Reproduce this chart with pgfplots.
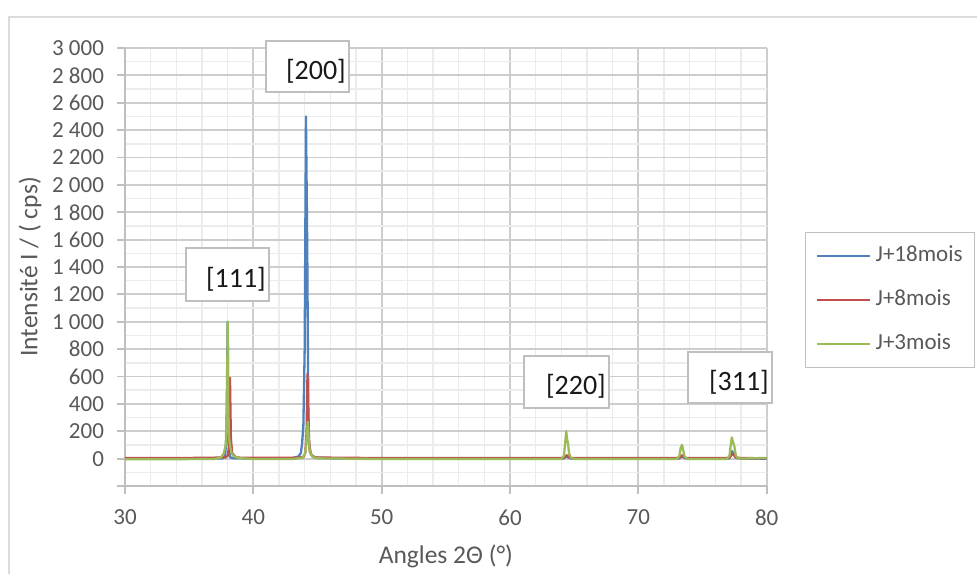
\documentclass[border=0pt]{standalone}
\usepackage{fontspec}
\setmainfont{Carlito}
\usepackage{pgfplots}
\pgfplotsset{compat=1.18}
\definecolor{cblue}{HTML}{4F81BD}
\definecolor{cred}{HTML}{C0504D}
\definecolor{cgreen}{HTML}{9BBB59}
\definecolor{txt}{HTML}{595959}
\definecolor{majg}{HTML}{CDCDCD}
\definecolor{ming}{HTML}{ECECEC}
\definecolor{axg}{HTML}{BFBFBF}
\begin{document}
\begin{tikzpicture}
\useasboundingbox (0pt,0pt) rectangle (977pt,574pt);
\fill[white] (0pt,0pt) rectangle (977pt,574pt);
\draw[majg!70, line width=1.4pt] (9pt,0pt) -- (9pt,557pt) -- (977pt,557pt);
\begin{axis}[
  at={(125pt,88pt)}, anchor=south west,
  scale only axis, width=641.7pt, height=438pt,
  xmin=30, xmax=80, ymin=-200, ymax=3000,
  xtick={30,40,...,80},
  ytick={-200,0,200,...,3000},
  yticklabels={,0,200,400,600,800,1 000,1 200,1 400,1 600,1 800,2 000,2 200,2 400,2 600,2 800,3 000},
  minor x tick num=4, minor y tick num=1,
  grid=both,
  major grid style={majg, line width=1.8pt},
  minor grid style={ming, line width=1.5pt},
  axis lines*=left, axis line style={axg, line width=1.8pt},
  tick align=outside, major tick length=7.5pt, minor tick length=0pt,
  tick style={axg, line width=1.8pt},
  ticklabel style={font=\fontsize{23}{27}\selectfont, text=txt},
  xticklabel style={yshift=-13pt},
  yticklabel style={xshift=-10pt},
  /pgf/number format/assume math mode=true,
  xlabel={Angles 2Θ (°)}, ylabel={Intensité I / ( cps)},
  label style={font=\fontsize{25.5}{30}\selectfont, text=txt},
  xlabel style={at={(axis description cs:0.5,-0.16)}, anchor=center},
  ylabel style={at={(axis description cs:-0.148,0.5)}, anchor=center},
  legend style={at={(1.0597,0.5799)}, anchor=north west, draw=axg, line width=1.4pt, fill=white,
    font=\fontsize{23}{27}\selectfont, text=txt, row sep=19pt, inner xsep=10pt, inner ysep=11pt,
    nodes={inner sep=2pt, text height=16pt, text depth=5pt}},
  legend cell align=left,
  legend image code/.code={\draw[#1, line width=2pt] (0pt,0pt) -- (53pt,0pt);},
]
\addplot[color=cblue, line width=2.3pt, line join=round] coordinates {
(30,0) (34,1) (37.6,2) (37.8,20) (37.9,150) (38.0,1000) (38.05,400) (38.1,60) (38.2,10) (38.4,3) (40,1)
(43.0,3) (43.5,15) (43.7,40) (43.8,110) (43.9,250) (44.0,800) (44.1,2500) (44.2,1550) (44.28,400)
(44.35,100) (44.5,30) (44.8,8) (46,2) (55,1) (64.1,0) (64.3,10) (64.4,18) (64.55,8) (64.8,0)
(73.1,0) (73.3,12) (73.4,15) (73.6,5) (73.8,0) (77.0,0) (77.2,20) (77.3,55) (77.4,40) (77.55,12) (77.8,0) (80,0)
};
\addlegendentry{\hspace{3pt}J+18mois}
\addplot[color=cred, line width=2.3pt, line join=round] coordinates {
(30,5) (35,5) (37.8,8) (38.0,20) (38.1,80) (38.18,590) (38.25,150) (38.35,40) (38.6,12) (39,6)
(43,6) (43.9,10) (44.05,40) (44.15,200) (44.22,620) (44.3,200) (44.4,50) (44.6,15) (45,8) (50,4)
(64.2,4) (64.35,20) (64.45,25) (64.6,10) (64.8,4) (73.2,4) (73.4,25) (73.6,10) (73.8,4)
(77.1,4) (77.3,35) (77.45,25) (77.6,8) (78,4) (80,3)
};
\addlegendentry{\hspace{3pt}J+8mois}
\addplot[color=cgreen, line width=2.3pt, line join=round] coordinates {
(30,-5) (34,-4) (37.0,-2) (37.5,10) (37.7,40) (37.85,100) (37.95,400) (38.0,1000) (38.05,400) (38.1,150)
(38.2,90) (38.3,40) (38.5,15) (39,3) (40,-3) (43,-3) (43.8,5) (44.0,30) (44.1,80) (44.18,200)
(44.25,270) (44.32,130) (44.4,50) (44.6,15) (45,2) (50,-3) (60,-3) (64.0,-2) (64.2,20) (64.3,120)
(64.38,200) (64.45,140) (64.52,110) (64.6,40) (64.75,5) (65,-2) (73.0,-3) (73.2,20) (73.3,80)
(73.4,100) (73.5,60) (73.6,15) (73.8,-2) (76.9,-2) (77.1,20) (77.2,100) (77.28,155) (77.38,120)
(77.48,90) (77.6,20) (77.8,0) (80,5)
};
\addlegendentry{\hspace{3pt}J+3mois}
\end{axis}
\tikzset{ann/.style={draw=axg, line width=1.5pt, fill=white}, anntext/.style={inner sep=0pt, anchor=east, font=\fontsize{28}{32}\selectfont, text=black!90}}
\draw[ann] (266pt,533pt) rectangle (349pt,482pt);
\node[anntext] at (346pt,503pt) {[200]};
\draw[ann] (186pt,326pt) rectangle (269pt,273pt);
\node[anntext] at (266pt,295pt) {[111]};
\draw[ann] (524pt,218pt) rectangle (609pt,166pt);
\node[anntext] at (606pt,188pt) {[220]};
\draw[ann] (688pt,222pt) rectangle (772pt,171pt);
\node[anntext] at (769pt,192pt) {[311]};
\end{tikzpicture}
\end{document}
